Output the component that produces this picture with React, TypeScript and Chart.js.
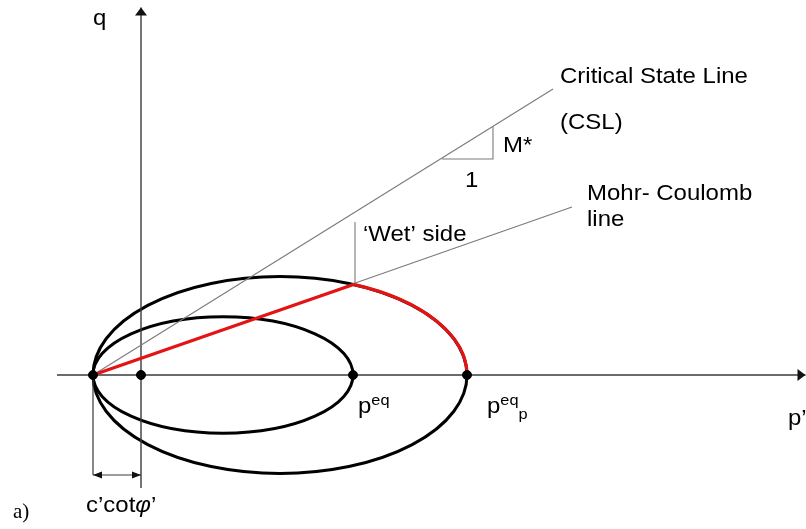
import React, { useEffect, useRef } from "react";
import { Chart, registerables } from "chart.js";
Chart.register(...registerables);

// Diagram coordinates: p' (horizontal) and q (vertical), arbitrary units
const P_RANGE = [-14.1, 66.5];
const Q_RANGE = [-15.4, 37.5];

const pAxisP = [-8.4, 66.45];
const qAxisQ = [-11.3, 36.75];

// black dots on the p' axis: -c'cotφ', 0, p_eq, p_eq_p
const dotP = [-4.8, 0, 21.2, 32.6];

// yield ellipses (small, large)
const ellipseCenterP = [8.2, 13.9];
const ellipseSemiP = [13.0, 18.7];
const ellipseSemiQ = [5.82, 9.85];

// Critical State Line
const cslP = [-4.8, 41.2];
const cslQ = [0, 28.6];
// Mohr-Coulomb line
const mcP = [-4.8, 43.1];
const mcQ = [0, 16.8];
// intersection of MC line with the large ellipse
const wetPointP = 21.4;
const wetPointQ = 9.1;
const wetMarkerTopQ = 15.3;
// slope triangle on CSL
const slopeTriP = [30.1, 35.2, 35.2];
const slopeTriQ = [21.6, 21.6, 24.8];
// c'cotφ' dimension
const dimP = [-4.8, 0];
const dimArrowQ = -10.0;

const RED = "rgb(228,20,20)";
const GRAY = "#7a7a7a";
const AXIS = "#3a3a3a";
const FONT = "'Liberation Sans', Arial, sans-serif";

const seg = (ps: number[], qs: number[]) => ps.map((p, i) => ({ x: p, y: qs[i] }));

const ellipsePlugin = {
  id: "ellipses",
  beforeDatasetsDraw(chart: any) {
    const { ctx } = chart;
    const xs = chart.scales.x;
    const ys = chart.scales.y;
    ctx.save();
    ctx.lineWidth = 3;
    ctx.strokeStyle = "#000";
    const geo: any[] = [];
    for (let i = 0; i < ellipseCenterP.length; i++) {
      const cx = xs.getPixelForValue(ellipseCenterP[i]);
      const cy = ys.getPixelForValue(0);
      const rx = xs.getPixelForValue(ellipseCenterP[i] + ellipseSemiP[i]) - cx;
      const ry = cy - ys.getPixelForValue(ellipseSemiQ[i]);
      geo.push({ cx, cy, rx, ry });
      ctx.beginPath();
      ctx.ellipse(cx, cy, rx, ry, 0, 0, Math.PI * 2);
      ctx.stroke();
    }
    // red 'wet side' arc on large ellipse
    const g = geo[1];
    const wx = xs.getPixelForValue(wetPointP);
    const wy = ys.getPixelForValue(wetPointQ);
    const a0 = Math.atan2((wy - g.cy) / g.ry, (wx - g.cx) / g.rx);
    ctx.strokeStyle = RED;
    ctx.lineWidth = 3.2;
    ctx.beginPath();
    ctx.ellipse(g.cx, g.cy, g.rx, g.ry, 0, a0, 0);
    ctx.stroke();
    ctx.restore();
  },
};

function tri(ctx: any, pts: number[][]) {
  ctx.beginPath();
  ctx.moveTo(pts[0][0], pts[0][1]);
  ctx.lineTo(pts[1][0], pts[1][1]);
  ctx.lineTo(pts[2][0], pts[2][1]);
  ctx.closePath();
  ctx.fill();
}

const arrowPlugin = {
  id: "arrows",
  afterDatasetsDraw(chart: any) {
    const { ctx } = chart;
    const xs = chart.scales.x;
    const ys = chart.scales.y;
    ctx.save();
    ctx.fillStyle = "#111";
    // q axis
    const qx = xs.getPixelForValue(0);
    const qy = ys.getPixelForValue(qAxisQ[1]);
    tri(ctx, [[qx, qy], [qx - 6, qy + 8], [qx + 6, qy + 8]]);
    // p' axis
    const px = xs.getPixelForValue(pAxisP[1]);
    const py = ys.getPixelForValue(0);
    tri(ctx, [[px, py], [px - 8, py - 6], [px - 8, py + 6]]);
    // dimension arrows
    const dy = ys.getPixelForValue(dimArrowQ);
    const d0 = xs.getPixelForValue(dimP[0]);
    const d1 = xs.getPixelForValue(dimP[1]);
    tri(ctx, [[d0, dy], [d0 + 9, dy - 3.5], [d0 + 9, dy + 3.5]]);
    tri(ctx, [[d1, dy], [d1 - 9, dy - 3.5], [d1 - 9, dy + 3.5]]);
    ctx.restore();
  },
};

type Piece = { t: string; size?: number; dy?: number; italic?: boolean; family?: string };
type Label = { p: number; q: number; pieces: Piece[]; sx?: number };

const labels: Label[] = [
  { p: -4.8, q: 35.0, pieces: [{ t: "q" }] },
  { p: 41.9, q: 29.2, pieces: [{ t: "Critical State Line" }] },
  { p: 41.9, q: 24.6, pieces: [{ t: "(CSL)" }] },
  { p: 36.2, q: 22.3, pieces: [{ t: "M*" }] },
  { p: 32.4, q: 18.8, pieces: [{ t: "1" }] },
  { p: 44.6, q: 17.5, pieces: [{ t: "Mohr- Coulomb" }] },
  { p: 44.6, q: 14.95, pieces: [{ t: "line" }] },
  { p: 22.2, q: 13.4, pieces: [{ t: "\u2018Wet\u2019 side" }] },
  { p: 21.7, q: -3.8, pieces: [{ t: "p" }, { t: "eq", size: 15, dy: -8 }] },
  { p: 34.6, q: -3.8, pieces: [{ t: "p" }, { t: "eq", size: 15, dy: -8 }, { t: "p", size: 15, dy: 6 }] },
  { p: 64.7, q: -5.0, pieces: [{ t: "p\u2019" }] },
  { p: -5.5, q: -13.7, pieces: [{ t: "c\u2019cot" }, { t: "\u03c6", italic: true }, { t: "\u2019" }] },
  { p: -12.8, q: -14.3, sx: 1, pieces: [{ t: "a)", family: "'Liberation Serif', 'Times New Roman', serif", size: 21 }] },
];

const textPlugin = {
  id: "texts",
  afterDraw(chart: any) {
    const { ctx } = chart;
    const xs = chart.scales.x;
    const ys = chart.scales.y;
    ctx.save();
    ctx.fillStyle = "#000";
    ctx.textBaseline = "alphabetic";
    ctx.textAlign = "left";
    for (const l of labels) {
      const x0 = xs.getPixelForValue(l.p);
      const y = ys.getPixelForValue(l.q);
      ctx.save();
      ctx.translate(x0, y);
      ctx.scale(l.sx ?? 1.09, 1);
      let x = 0;
      for (const pc of l.pieces) {
        ctx.font = `${pc.italic ? "italic " : ""}${pc.size || 22}px ${pc.family || FONT}`;
        ctx.fillText(pc.t, x, pc.dy || 0);
        x += ctx.measureText(pc.t).width;
      }
      ctx.restore();
    }
    ctx.restore();
  },
};

export default function App() {
  const ref = useRef<HTMLCanvasElement>(null);
  useEffect(() => {
    const line = (data: any[], color: string, width: number, order: number) => ({
      data,
      showLine: true,
      borderColor: color,
      borderWidth: width,
      pointRadius: 0,
      fill: false,
      order,
    });
    const chart = new Chart(ref.current!, {
      type: "scatter",
      data: {
        datasets: [
          {
            data: dotP.map((p) => ({ x: p, y: 0 })),
            pointRadius: 4.5,
            pointBackgroundColor: "#000",
            pointBorderColor: "#000",
            showLine: false,
            order: 0,
          } as any,
          line(seg([mcP[0], wetPointP], [mcQ[0], wetPointQ]), RED, 3.2, 1),
          line(seg(cslP, cslQ), GRAY, 1.1, 5),
          line(seg(mcP, mcQ), GRAY, 1.1, 5),
          line(seg([wetPointP, wetPointP], [wetPointQ, wetMarkerTopQ]), GRAY, 1.1, 5),
          line(seg(slopeTriP, slopeTriQ), GRAY, 1.1, 5),
          line(seg(pAxisP, [0, 0]), AXIS, 1.4, 6),
          line(seg([0, 0], qAxisQ), AXIS, 1.4, 6),
          line(seg([dimP[0], dimP[0]], [0, dimArrowQ]), AXIS, 1.2, 6),
          line(seg(dimP, [dimArrowQ, dimArrowQ]), AXIS, 1.2, 6),
        ],
      },
      options: {
        animation: false,
        responsive: false,
        maintainAspectRatio: false,
        layout: { padding: 0, autoPadding: false },
        plugins: { legend: { display: false }, tooltip: { enabled: false } },
        scales: {
          x: { type: "linear", display: false, min: P_RANGE[0], max: P_RANGE[1] },
          y: { type: "linear", display: false, min: Q_RANGE[0], max: Q_RANGE[1] },
        },
      },
      plugins: [ellipsePlugin, arrowPlugin, textPlugin],
    });
    return () => chart.destroy();
  }, []);
  return (
    <canvas
      ref={ref}
      width={806}
      height={529}
      style={{ position: "absolute", left: 0, top: 0, width: 806, height: 529, background: "#fff" }}
    />
  );
}
